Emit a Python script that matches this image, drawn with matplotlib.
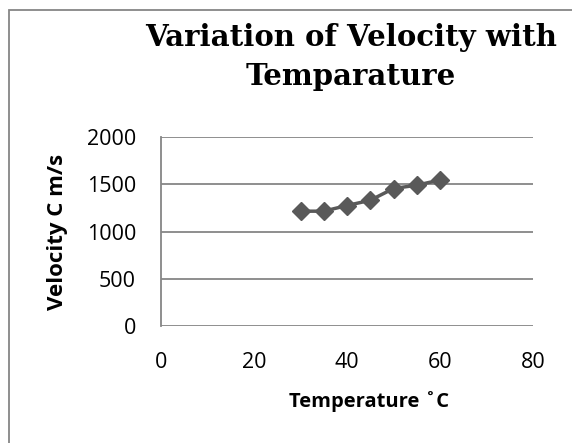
import matplotlib.pyplot as plt
from matplotlib.patches import Rectangle

# dados
temperatura = [30, 35, 40, 45, 50, 55, 60]
velocidade = [1215, 1215, 1275, 1330, 1455, 1490, 1545]
ticks_x = [0, 20, 40, 60, 80]
ticks_y = [0, 500, 1000, 1500, 2000]

titulo = 'Variation of Velocity with\nTemparature'
rotulo_x = 'Temperature \u02daC'
rotulo_y = 'Velocity C m/s'

fig = plt.figure(figsize=(5.72, 4.43), dpi=100)
ax = fig.add_axes([161 / 572, 1 - 326 / 443, 372 / 572, 189 / 443])

ax.plot(temperatura, velocidade, color='#595959', linewidth=2.5,
        marker='D', markersize=9.5, markeredgecolor='#595959',
        markerfacecolor='#595959', clip_on=False, zorder=3)

ax.set_xlim(0, 80)
ax.set_ylim(0, 2000)
ax.set_xticks(ticks_x)
ax.set_yticks(ticks_y)
ax.grid(axis='y', color='#868686', linewidth=1.3)
ax.set_axisbelow(True)
for lado in ['top', 'right', 'bottom']:
    ax.spines[lado].set_visible(False)
ax.spines['left'].set_color('#868686')
ax.spines['left'].set_linewidth(1.3)
ax.tick_params(length=0, labelsize=15.5, colors='black')
ax.tick_params(axis='x', pad=19)
ax.tick_params(axis='y', pad=18)
for rot in ax.get_xticklabels() + ax.get_yticklabels():
    rot.set_fontfamily('Open Sans')

fig.text(351 / 572, 1 - 57 / 443, titulo, ha='center', va='center',
         fontsize=21, fontweight='bold', family='DejaVu Serif',
         linespacing=1.45)
fig.text(369 / 572, 1 - 402 / 443, rotulo_x, ha='center', va='center',
         fontsize=14.5, fontweight='bold', family='Open Sans')
fig.text(58 / 572, 1 - 232 / 443, rotulo_y, ha='center', va='center',
         rotation=90, fontsize=16, fontweight='bold', family='Open Sans')

# moldura do grafico (cortada a direita e embaixo)
fig.patches.append(Rectangle((8.5 / 572, -0.1), 1.2, 1 - 9.5 / 443 + 0.1,
                             transform=fig.transFigure, fill=False,
                             edgecolor='#868686', linewidth=1.3))

plt.savefig('out.png')
